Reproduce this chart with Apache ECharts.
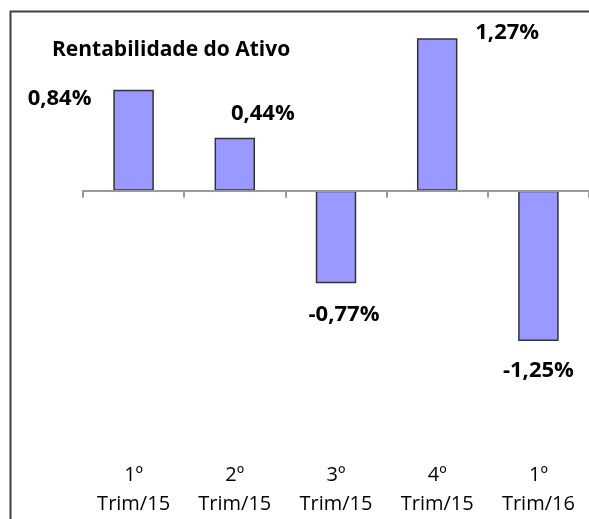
<!DOCTYPE html>
<html>
<head>
<meta charset="utf-8">
<script src="https://cdn.jsdelivr.net/npm/echarts@6/dist/echarts.min.js"></script>
<style>
  html, body { margin: 0; padding: 0; background: #fff; }
  #chart { width: 589px; height: 519px; }
</style>
</head>
<body>
<div id="chart"></div>
<script>
// Rentabilidade do Ativo — barras trimestrais (%)
const categories = ['1º\nTrim/15', '2º\nTrim/15', '3º\nTrim/15', '4º\nTrim/15', '1º\nTrim/16'];
const values = [0.84, 0.44, -0.77, 1.27, -1.25];

// posição manual das etiquetas (como no original do Excel)
const labelPos = [
  { position: 'top', offset: [-74, 25] },
  { position: 'top', offset: [28, -8] },
  { position: 'bottom', offset: [8, 16] },
  { position: 'top', offset: [70, 11] },
  { position: 'bottom', offset: [0, 14] },
];

const FONT = '"Open Sans", sans-serif';
const fmt = (v) => v.toFixed(2).replace('.', ',') + '%';

const chart = echarts.init(document.getElementById('chart'));

chart.setOption({
  animation: false,
  backgroundColor: '#fff',
  textStyle: { fontFamily: FONT },
  title: {
    text: 'Rentabilidade do Ativo',
    left: 47, top: 35,
    textStyle: { fontFamily: FONT, fontWeight: 'bold', fontSize: 21, color: '#000' },
  },
  graphic: [{
    type: 'rect', z: 100, silent: true,
    shape: { x: 10.5, y: 11.5, width: 900, height: 900 },
    style: { fill: 'none', stroke: '#404040', lineWidth: 2 },
  }],
  grid: { left: 83, top: 10.5, width: 508, height: 427 },
  xAxis: [
    {
      // linha do zero por cima das barras, como no Excel
      type: 'category', data: categories, z: 5,
      axisLine: { onZero: true, lineStyle: { color: '#999', width: 2 } },
      axisTick: { show: true, length: 7, lineStyle: { color: '#999', width: 2 } },
      axisLabel: { show: false },
    },
    {
      type: 'category', data: categories, position: 'bottom',
      axisLine: { show: false, onZero: false },
      axisTick: { show: false },
      axisLabel: {
        margin: 30, fontFamily: FONT, fontSize: 20, lineHeight: 29, color: '#000',
      },
    },
  ],
  yAxis: {
    type: 'value', min: -2, max: 1.5, show: false,
    splitLine: { show: false },
  },
  series: [{
    type: 'bar', xAxisIndex: 0,
    barWidth: '40%',
    itemStyle: { color: '#9999ff', borderColor: '#333', borderWidth: 1.5 },
    data: values.map((v, i) => ({
      value: v,
      label: {
        show: true,
        position: labelPos[i].position,
        offset: labelPos[i].offset,
        formatter: (p) => fmt(p.value),
        fontFamily: FONT, fontWeight: 'bold', fontSize: 22, color: '#000',
      },
    })),
  }],
});
</script>
</body>
</html>
